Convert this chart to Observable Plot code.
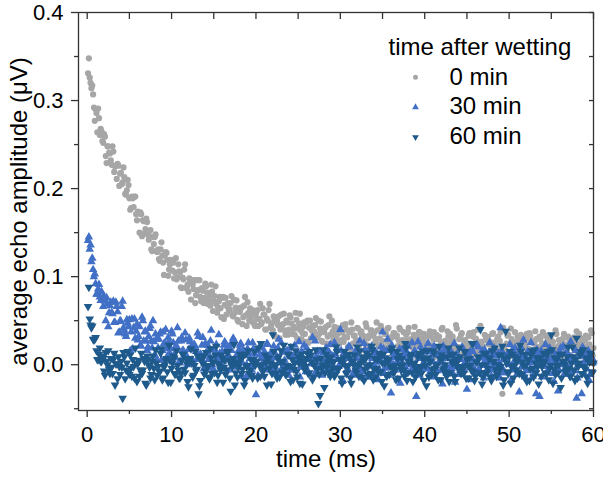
<!DOCTYPE html>
<html>
<head>
<meta charset="utf-8">
<script src="https://cdn.jsdelivr.net/npm/d3@7"></script>
<script src="https://cdn.jsdelivr.net/npm/@observablehq/plot@0.6"></script>
<style>
  html, body { margin: 0; padding: 0; background: white; }
</style>
</head>
<body>
<div id="chart"></div>
<script>
// echo times (ms), two interleaved acquisition grids
const timeMsA = [
.2,.4,.6,.8,1,1.2,1.4,1.6,1.8,2,2.2,2.4,2.6,2.8,3,3.2,3.4,3.6,3.8,4,4.2,4.4,4.6,4.8,5,
5.2,5.4,5.6,5.8,6,6.2,6.4,6.6,6.8,7,7.2,7.4,7.6,7.8,8,8.2,8.4,8.6,8.8,9,9.2,9.4,9.6,9.8,10,
10.2,10.4,10.6,10.8,11,11.2,11.4,11.6,11.8,12,12.2,12.4,12.6,12.8,13,13.2,13.4,13.6,13.8,14,14.2,14.4,14.6,14.8,15,
15.2,15.4,15.6,15.8,16,16.2,16.4,16.6,16.8,17,17.2,17.4,17.6,17.8,18,18.2,18.4,18.6,18.8,19,19.2,19.4,19.6,19.8,20,
20.2,20.4,20.6,20.8,21,21.2,21.4,21.6,21.8,22,22.2,22.4,22.6,22.8,23,23.2,23.4,23.6,23.8,24,24.2,24.4,24.6,24.8,25,
25.2,25.4,25.6,25.8,26,26.2,26.4,26.6,26.8,27,27.2,27.4,27.6,27.8,28,28.2,28.4,28.6,28.8,29,29.2,29.4,29.6,29.8,30,
30.2,30.4,30.6,30.8,31,31.2,31.4,31.6,31.8,32,32.2,32.4,32.6,32.8,33,33.2,33.4,33.6,33.8,34,34.2,34.4,34.6,34.8,35,
35.2,35.4,35.6,35.8,36,36.2,36.4,36.6,36.8,37,37.2,37.4,37.6,37.8,38,38.2,38.4,38.6,38.8,39,39.2,39.4,39.6,39.8,40,
40.2,40.4,40.6,40.8,41,41.2,41.4,41.6,41.8,42,42.2,42.4,42.6,42.8,43,43.2,43.4,43.6,43.8,44,44.2,44.4,44.6,44.8,45,
45.2,45.4,45.6,45.8,46,46.2,46.4,46.6,46.8,47,47.2,47.4,47.6,47.8,48,48.2,48.4,48.6,48.8,49,49.2,49.4,49.6,49.8,50,
50.2,50.4,50.6,50.8,51,51.2,51.4,51.6,51.8,52,52.2,52.4,52.6,52.8,53,53.2,53.4,53.6,53.8,54,54.2,54.4,54.6,54.8,55,
55.2,55.4,55.6,55.8,56,56.2,56.4,56.6,56.8,57,57.2,57.4,57.6,57.8,58,58.2,58.4,58.6,58.8,59,59.2,59.4,59.6,59.8,60
];
const timeMsB = [
.1,.3,.5,.7,.9,1.1,1.3,1.5,1.7,1.9,2.1,2.3,2.5,2.7,2.9,3.1,3.3,3.5,3.7,3.9,4.1,4.3,4.5,4.7,4.9,
5.1,5.3,5.5,5.7,5.9,6.1,6.3,6.5,6.7,6.9,7.1,7.3,7.5,7.7,7.9,8.1,8.3,8.5,8.7,8.9,9.1,9.3,9.5,9.7,9.9,
10.1,10.3,10.5,10.7,10.9,11.1,11.3,11.5,11.7,11.9,12.1,12.3,12.5,12.7,12.9,13.1,13.3,13.5,13.7,13.9,14.1,14.3,14.5,14.7,14.9,
15.1,15.3,15.5,15.7,15.9,16.1,16.3,16.5,16.7,16.9,17.1,17.3,17.5,17.7,17.9,18.1,18.3,18.5,18.7,18.9,19.1,19.3,19.5,19.7,19.9,
20.1,20.3,20.5,20.7,20.9,21.1,21.3,21.5,21.7,21.9,22.1,22.3,22.5,22.7,22.9,23.1,23.3,23.5,23.7,23.9,24.1,24.3,24.5,24.7,24.9,
25.1,25.3,25.5,25.7,25.9,26.1,26.3,26.5,26.7,26.9,27.1,27.3,27.5,27.7,27.9,28.1,28.3,28.5,28.7,28.9,29.1,29.3,29.5,29.7,29.9,
30.1,30.3,30.5,30.7,30.9,31.1,31.3,31.5,31.7,31.9,32.1,32.3,32.5,32.7,32.9,33.1,33.3,33.5,33.7,33.9,34.1,34.3,34.5,34.7,34.9,
35.1,35.3,35.5,35.7,35.9,36.1,36.3,36.5,36.7,36.9,37.1,37.3,37.5,37.7,37.9,38.1,38.3,38.5,38.7,38.9,39.1,39.3,39.5,39.7,39.9,
40.1,40.3,40.5,40.7,40.9,41.1,41.3,41.5,41.7,41.9,42.1,42.3,42.5,42.7,42.9,43.1,43.3,43.5,43.7,43.9,44.1,44.3,44.5,44.7,44.9,
45.1,45.3,45.5,45.7,45.9,46.1,46.3,46.5,46.7,46.9,47.1,47.3,47.5,47.7,47.9,48.1,48.3,48.5,48.7,48.9,49.1,49.3,49.5,49.7,49.9,
50.1,50.3,50.5,50.7,50.9,51.1,51.3,51.5,51.7,51.9,52.1,52.3,52.5,52.7,52.9,53.1,53.3,53.5,53.7,53.9,54.1,54.3,54.5,54.7,54.9,
55.1,55.3,55.5,55.7,55.9,56.1,56.3,56.5,56.7,56.9,57.1,57.3,57.5,57.7,57.9,58.1,58.3,58.5,58.7,58.9,59.1,59.3,59.5,59.7,59.9
];

// average echo amplitude (µV) — 0 min after wetting
const amp0minA = [
.348,.320,.317,.292,.290,.264,.280,.268,.254,.262,
.237,.248,.241,.232,.248,.219,.226,.228,.203,.218,
.207,.213,.193,.210,.189,.178,.189,.191,.171,.174,
.150,.171,.164,.149,.166,.148,.146,.131,.145,.145,
.129,.131,.118,.139,.116,.124,.127,.101,.114,.107,
.116,.105,.097,.114,.105,.087,.097,.114,.088,.083,
.093,.096,.086,.070,.096,.085,.077,.087,.070,.092,
.082,.074,.067,.083,.072,.089,.059,.072,.064,.076,
.052,.076,.066,.061,.070,.056,.074,.065,.051,.061,
.065,.046,.067,.056,.071,.050,.055,.062,.046,.058,
.062,.052,.046,.064,.057,.040,.050,.069,.044,.039,
.051,.054,.045,.030,.057,.046,.039,.050,.034,.056,
.047,.040,.034,.051,.041,.058,.029,.043,.035,.048,
.025,.050,.039,.035,.045,.031,.050,.041,.027,.038,
.042,.024,.045,.034,.050,.029,.034,.042,.025,.038,
.037,.026,.046,.031,.038,.018,.040,.033,.026,.042,
.021,.036,.033,.027,.047,.022,.033,.039,.018,.036,
.029,.039,.023,.044,.027,.020,.035,.041,.024,.031,
.011,.036,.032,.021,.042,.027,.028,.016,.034,.037,
.024,.029,.019,.043,.022,.031,.037,.013,.029,.024,
.017,.032,.038,.022,.029,.009,.034,.030,.019,.040,
.025,.027,.014,.032,.035,.022,.027,.017,.041,.020,
.030,.036,.012,.028,.023,.033,.024,.018,.037,.030,
.014,.025,.044,.020,.016,.028,.032,.023,.008,.035,
.025,.018,.030,.014,.037,-.033,.021,.016,.033,.023,
.041,.012,.026,.019,.032,.009,.034,.024,.020,.030,
.017,.036,.027,.014,.025,.029,.010,.032,.021,.037,
.017,.022,.030,.014,.027,.026,.015,.035,.021,.028,
.008,.030,.023,.016,.032,.011,.026,.023,.018,.038,
.013,.024,.030,.009,.028,.021,.031,.015,.036,.019
];
const amp0minB = [
.331,.326,.314,.307,.277,.286,.291,.261,.265,.252,
.259,.229,.248,.240,.227,.242,.225,.211,.226,.217,
.205,.224,.194,.198,.204,.176,.191,.179,.191,.164,
.172,.173,.146,.163,.154,.162,.142,.153,.129,.137,
.148,.128,.120,.131,.124,.102,.128,.119,.108,.119,
.107,.098,.121,.099,.106,.088,.099,.108,.087,.091,
.098,.074,.091,.096,.079,.084,.096,.072,.084,.076,
.089,.069,.077,.091,.061,.078,.069,.065,.077,.054,
.077,.068,.057,.070,.063,.078,.055,.059,.073,.049,
.060,.065,.054,.077,.044,.059,.064,.049,.056,.044,
.052,.044,.069,.048,.057,.040,.052,.062,.042,.047,
.055,.032,.050,.055,.040,.045,.058,.034,.048,.040,
.054,.035,.043,.059,.030,.047,.039,.036,.048,.026,
.050,.042,.030,.044,.038,.053,.031,.035,.049,.026,
.037,.043,.032,.055,.023,.038,.043,.029,.035,.024,
.028,.045,.032,.040,.020,.037,.048,.024,.033,.028,
.041,.015,.038,.033,.024,.043,.030,.020,.039,.033,
.025,.048,.022,.030,.040,.016,.035,.027,.042,.019,
.031,.036,.013,.033,.028,.040,.022,.037,.016,.028,
.042,.025,.020,.034,.028,.008,.037,.030,.022,.035,
.033,.025,.022,.035,.013,.037,.029,.018,.032,.026,
.042,.020,.023,.038,.015,.026,.032,.022,.045,.013,
.029,.034,.020,.027,.016,.019,.036,.023,.032,.012,
.029,.040,.016,.026,.021,.034,.008,.031,.026,.017,
.036,.023,.013,.032,.027,.019,.042,.016,.024,.034,
.010,.029,.021,.037,.014,.026,.031,.008,.028,.023,
.035,.018,.033,.012,.024,.038,.020,.015,.029,.024,
.004,.033,.026,.018,.031,.021,.014,.039,.019,.028,
.012,.025,.035,.015,.021,.029,.007,.025,.031,.016,
.022,.035,.012,.026,.019,.033,.014,.023,.039,.010
];

// 30 min after wetting
const amp30minA = [
.145,.136,.121,.100,.092,.080,.091,.073,.076,.077,
.050,.069,.059,.071,.058,.048,.071,.060,.037,.049,
.072,.039,.032,.047,.051,.037,.018,.052,.038,.028,
.043,.021,.050,.037,.027,.020,.041,.027,.050,.011,
.029,.019,.035,.005,.037,.024,.018,.031,.013,.038,
.025,.008,.021,.027,.002,.031,.016,.036,.010,.017,
.026,.005,.022,.020,.006,.032,.012,.022,-.005,.024,
.014,.006,.027,.000,.018,.014,.008,.034,.000,.015,
.022,-.005,.019,.010,.023,.002,.028,.006,-.003,.017,
.024,.002,.012,-.014,.018,.013,-.002,.025,.005,-.034,
-.013,.020,.007,.002,.015,-.002,.023,.011,-.006,.008,
.014,-.010,.019,.004,.025,-.002,.005,.015,-.006,.011,
.010,-.004,.022,.003,.013,-.014,.015,.006,-.002,.019,
-.008,.011,.007,.001,.027,-.007,.008,.015,-.012,.013,
.004,.017,-.004,.023,.001,-.008,.012,.019,-.002,.040,
-.019,.013,.008,-.006,.021,.001,.004,-.012,.012,.016,
-.001,.005,-.008,.024,-.004,.009,.017,-.014,.007,.000,
.014,.003,-.005,.020,.037,-.010,.004,.029,-.003,-.032,
.008,.013,.001,-.017,.018,.005,-.004,.012,-.009,.021,
.009,.000,-.006,.016,-.036,.026,-.012,.007,-.003,.014,
-.002,.024,-.009,.006,.013,-.014,.011,.002,.015,-.006,
.021,-.001,-.010,.010,.017,-.004,.006,-.020,.012,.007,
-.007,.020,.000,.003,-.028,.011,.015,-.002,.004,-.009,
.023,-.005,.008,.016,-.015,.006,-.001,.013,.002,-.006,
.019,.010,-.011,.003,.042,-.004,-.009,.007,.012,.000,
-.018,.017,.004,-.005,.011,-.031,.020,.008,-.001,-.007,
.015,.002,.025,-.013,.006,-.033,.013,-.036,.016,.003,
-.002,.011,-.006,.019,.007,-.010,.004,.010,-.030,.015,
.000,.021,-.005,.000,.012,-.009,.008,.007,-.007,-.038,
.000,.010,-.033,.012,.003,-.005,.016,-.011,.008,.004
];
const amp30minB = [
.141,.131,.117,.108,.103,.080,.086,.077,.083,.066,
.072,.076,.043,.067,.059,.072,.048,.066,.036,.050,
.066,.042,.035,.051,.043,.016,.052,.042,.030,.046,
.032,.022,.054,.027,.038,.016,.032,.044,.019,.026,
.035,.006,.029,.037,.016,.024,.040,.010,.027,.018,
.035,.011,.021,.042,.003,.027,.016,.011,.028,.000,
.030,.020,.005,.023,.015,.036,.006,.011,.031,.001,
.014,.022,.009,.039,-.004,.017,.023,.005,.013,-.001,
.004,.026,.008,.020,-.006,.016,.030,-.002,.011,.005,
.022,-.013,.017,.012,.000,.025,.007,-.006,.018,.012,
.016,-.013,.011,.019,-.001,.007,.024,-.006,.012,.003,
.021,-.003,.008,.029,-.009,.014,.003,-.001,.016,-.012,
.019,.009,-.006,.013,.005,.026,-.003,.002,.022,-.008,
.006,.014,.001,.031,-.011,.009,.015,-.003,.006,-.008,
-.003,.019,.002,.014,-.012,.010,.025,-.007,.006,.000,
.016,-.018,.012,.007,-.005,.020,.003,-.010,.014,.008,
-.003,.027,-.006,.004,.017,-.014,.011,.000,.021,-.009,
.007,.013,-.017,.009,.003,.018,-.004,.016,-.012,.004,
.022,.000,-.006,.012,.005,-.021,.017,.008,-.003,.014,
.001,-.008,.025,-.001,.011,-.010,.007,.020,-.005,.003,
.017,-.005,.015,-.013,.003,.021,-.001,-.007,.011,.004,
-.022,.016,.007,-.004,.013,.000,-.009,.024,-.002,.010,
-.011,.006,.019,-.006,.002,.012,-.017,.007,.015,-.005,
.003,.020,-.010,.008,-.001,.017,-.007,.004,.025,-.013,
.011,.000,-.004,.013,-.015,.016,.006,-.009,.010,.002,
.023,-.006,-.001,.019,-.011,.003,.011,-.002,.028,-.014,
.007,.013,-.005,.004,-.010,-.005,.017,.000,.012,-.014,
.008,.023,-.009,.004,-.002,.015,-.019,.011,.006,-.006,
.019,.002,-.011,.013,.007,-.004,.026,-.007,.003,.016,
-.015,.010,-.001,.020,-.010,.006,.012,-.018,.008,.002
];

// 60 min after wetting
const amp60minA = [
.088,.045,.044,.028,.031,.006,.012,.004,.010,-.007,
.014,.000,-.005,.007,-.010,.013,.001,-.016,-.002,.004,
-.038,.009,-.006,.015,-.011,-.004,.006,-.015,.002,.001,
-.013,.013,-.006,.004,-.023,.006,-.003,-.011,.010,-.017,
.002,-.002,-.008,.018,-.015,.000,.007,-.020,.005,-.004,
.010,-.011,.016,-.006,-.015,.005,.012,-.009,.001,-.025,
.007,.002,-.012,.015,-.005,-.033,-.018,.006,.010,-.007,
-.001,-.014,.018,-.010,.003,.011,-.020,.001,-.006,.008,
-.003,-.011,.014,.005,-.030,-.002,.023,-.009,-.014,.002,
.007,-.005,-.023,.012,-.001,-.010,.006,-.015,.015,.003,
-.015,-.001,.024,-.008,-.013,.003,.008,-.004,-.022,.034,
.000,-.009,.007,-.014,.016,.004,-.005,-.011,.011,-.002,
.021,-.017,.002,-.008,.009,-.021,.012,-.001,-.006,.007,
-.010,.015,.003,-.014,.000,.006,-.044,-.035,-.004,.017,
-.009,-.002,.008,-.013,.004,.003,-.011,.015,-.004,.006,
-.021,.008,-.001,-.009,.012,-.015,.004,.000,-.006,.020,
-.013,.002,.009,-.018,.007,-.002,.011,-.010,.017,-.005,
-.014,.006,.013,-.008,.002,-.024,.008,.003,-.011,.016,
-.004,-.001,-.017,.007,.011,-.006,.000,-.013,.019,-.009,
.004,.012,-.019,.002,-.005,.009,-.002,-.010,.015,.006,
-.024,.008,.003,-.011,.016,-.004,-.001,-.017,.007,.011,
-.006,.000,-.013,.019,-.009,.004,.012,-.019,.002,-.005,
.009,-.002,-.010,.015,.006,-.015,-.001,.024,-.008,-.013,
.003,.008,.040,-.022,.013,.000,-.009,.007,-.014,.016,
.004,-.005,-.011,.011,-.002,.021,-.017,.038,-.008,.009,
-.021,.012,-.001,-.006,.007,-.010,.015,.003,-.014,.000,
.006,-.018,.011,-.004,.017,-.009,-.002,.008,-.013,.004,
.003,-.011,.015,-.004,.034,-.021,.008,-.001,-.009,.012,
-.015,.004,.000,-.006,.020,-.013,.002,.009,-.018,.030,
-.002,.011,-.010,.017,-.005,-.014,.006,.013,-.008,.002
];
const amp60minB = [
.066,.052,.042,.029,.029,.016,.006,.019,.004,.007,
-.012,.004,.016,-.010,-.003,.006,-.023,.001,.009,-.011,
-.003,.014,-.016,.002,-.007,.011,-.013,-.002,.019,-.019,
.005,-.006,-.010,.007,-.021,.010,.000,-.015,.004,-.004,
.017,-.012,-.007,.013,-.017,-.003,.005,-.008,.022,-.020,
.002,.008,-.010,-.001,-.015,-.010,.012,-.005,.007,-.019,
.003,.018,-.014,-.001,-.007,.010,-.024,.006,.001,-.011,
.014,-.003,-.016,.008,.002,-.009,.021,-.012,-.002,.011,
-.020,.005,-.006,.015,-.015,.001,.007,-.023,.003,-.003,
.012,-.010,.010,-.018,-.002,.016,-.006,-.012,.006,-.001,
.004,.019,-.013,.000,-.006,.011,-.023,.007,.002,-.010,
.015,-.002,-.015,.009,.003,-.008,.022,-.011,-.001,.012,
-.019,.006,-.005,.016,-.014,.002,.008,-.022,.004,-.002,
.013,-.009,.011,-.017,-.001,.017,-.005,-.011,.007,.000,
-.026,.012,.003,-.008,.009,-.004,-.013,.020,-.006,.006,
-.015,.002,.015,-.010,-.002,.008,-.021,.003,.011,-.009,
-.001,.016,-.014,.004,-.005,.013,-.011,.000,.021,-.017,
.007,-.004,-.008,.009,-.019,.012,.002,-.013,.006,-.002,
.019,-.010,-.005,.015,-.015,-.001,.007,-.006,.024,-.018,
.003,.009,-.009,.000,-.014,-.009,.013,-.004,.008,-.018,
-.001,.016,-.014,.004,-.005,.013,-.011,.000,.021,-.017,
.007,-.004,-.008,.009,-.019,.012,.002,-.013,.006,-.002,
.019,-.010,-.005,.015,-.015,-.001,.007,-.006,.024,-.018,
.003,.009,-.009,.000,-.014,-.009,.013,-.004,.008,-.018,
.004,.019,-.013,.000,-.006,.011,-.023,.007,.002,-.010,
.015,-.002,-.015,.009,.003,-.008,.022,-.011,-.001,.012,
-.019,.006,-.005,.016,-.014,.002,.008,-.022,.004,-.002,
.013,-.009,.011,-.017,-.001,.017,-.005,-.011,.007,.000,
-.026,.012,.003,-.008,.009,-.004,-.013,.020,-.006,.006,
-.015,.002,.015,-.010,-.002,.008,-.021,.003,.011,-.009
];

const seriesNames = ["0 min", "30 min", "60 min"];
const seriesColors = ["#a6a6a6", "#4170c6", "#1f5a8c"];
const legendTitle = "time after wetting";
const xLabel = "time (ms)";
const yLabel = "average echo amplitude (\u03bcV)";

const xMajorTicks = [0, 10, 20, 30, 40, 50, 60];
const xMinorTicks = [5, 15, 25, 35, 45, 55];
const xTopTicks = [0, 5, 10, 15, 20, 25, 30, 35, 40, 45, 50, 55, 60];
const yMajorTicks = [0, 0.1, 0.2, 0.3, 0.4];
const yMinorTicks = [-0.05, 0.05, 0.15, 0.25, 0.35];
const yRightTicks = [-0.05, 0, 0.05, 0.1, 0.15, 0.2, 0.25, 0.3, 0.35, 0.4];

const rows = (a, b) => [
  ...timeMsA.map((t, i) => ({t, v: a[i]})),
  ...timeMsB.map((t, i) => ({t, v: b[i]}))
].sort((p, q) => p.t - q.t);
const data0 = rows(amp0minA, amp0minB);
const data30 = rows(amp30minA, amp30minB);
const data60 = rows(amp60minA, amp60minB);

const font = "'Liberation Sans', Arial, Helvetica, sans-serif";
const axisStroke = "#333";

const legendMarks = [];
const legendSymbols = [
  {symbol: "circle", r: 2.5, rotate: 0},
  {symbol: "triangle", r: 2.5, rotate: 0},
  {symbol: "triangle", r: 2.5, rotate: 180}
];
const legendRowDy = [65, 94, 123.5];
const legendMarkDy = [64.7, 94.7, 124.7];
seriesNames.forEach((name, i) => {
  legendMarks.push(Plot.dot([name], {
    frameAnchor: "top-left", dx: 337, dy: legendMarkDy[i],
    symbol: legendSymbols[i].symbol, r: legendSymbols[i].r, rotate: legendSymbols[i].rotate,
    fill: seriesColors[i], stroke: "none"
  }));
  legendMarks.push(Plot.text([name], {
    frameAnchor: "top-left", dx: 371, dy: legendRowDy[i],
    text: d => d, textAnchor: "start", lineAnchor: "middle", fontSize: 24, fill: "black"
  }));
});

const noFmt = () => "";

const chart = Plot.plot({
  width: 603,
  height: 484,
  marginLeft: 78,
  marginRight: 10,
  marginTop: 12,
  marginBottom: 74,
  style: {fontFamily: font, fontSize: "22px", background: "white", color: "black"},
  x: {domain: [-1.03, 60], label: null},
  y: {domain: [-0.052, 0.4], label: null},
  marks: [
    Plot.dot(data0, {x: "t", y: "v", symbol: "circle", r: 3.1, fill: seriesColors[0], stroke: "none"}),
    Plot.dot(data30, {x: "t", y: "v", symbol: "triangle", r: 3.2, fill: seriesColors[1], stroke: "none"}),
    Plot.dot(data60, {x: "t", y: "v", symbol: "triangle", r: 3.2, rotate: 180, fill: seriesColors[2], stroke: "none"}),
    Plot.frame({stroke: axisStroke, strokeWidth: 1.3}),
    Plot.axisX(xMajorTicks, {anchor: "bottom", tickSize: 7, tickPadding: 9, fontSize: 22, stroke: axisStroke, strokeWidth: 1.3, fill: "black", label: null}),
    Plot.axisX(xMinorTicks, {anchor: "bottom", tickSize: 4, tickFormat: noFmt, stroke: axisStroke, strokeWidth: 1.3, label: null}),
    Plot.axisX(xTopTicks, {anchor: "top", tickSize: -6, tickFormat: noFmt, stroke: axisStroke, strokeWidth: 1.3, label: null}),
    Plot.axisY(yMajorTicks, {anchor: "left", tickSize: 7, tickPadding: 8, tickFormat: d3.format(".1f"), fontSize: 22, stroke: axisStroke, strokeWidth: 1.3, fill: "black", label: null}),
    Plot.axisY(yMinorTicks, {anchor: "left", tickSize: 4, tickFormat: noFmt, stroke: axisStroke, strokeWidth: 1.3, label: null}),
    Plot.axisY(yRightTicks, {anchor: "right", tickSize: -5, tickFormat: noFmt, stroke: axisStroke, strokeWidth: 1.3, label: null}),
    Plot.text([xLabel], {frameAnchor: "bottom", dx: -10, dy: 49, text: d => d, textAnchor: "middle", lineAnchor: "middle", fontSize: 24, fill: "black"}),
    Plot.text([yLabel], {frameAnchor: "left", dx: -59, rotate: -90, text: d => d, textAnchor: "middle", lineAnchor: "middle", fontSize: 24, fill: "black"}),
    Plot.text([legendTitle], {frameAnchor: "top-left", dx: 310, dy: 35, text: d => d, textAnchor: "start", lineAnchor: "middle", fontSize: 24, fill: "black"}),
    ...legendMarks
  ]
});

document.getElementById("chart").appendChild(chart);
</script>
</body>
</html>
